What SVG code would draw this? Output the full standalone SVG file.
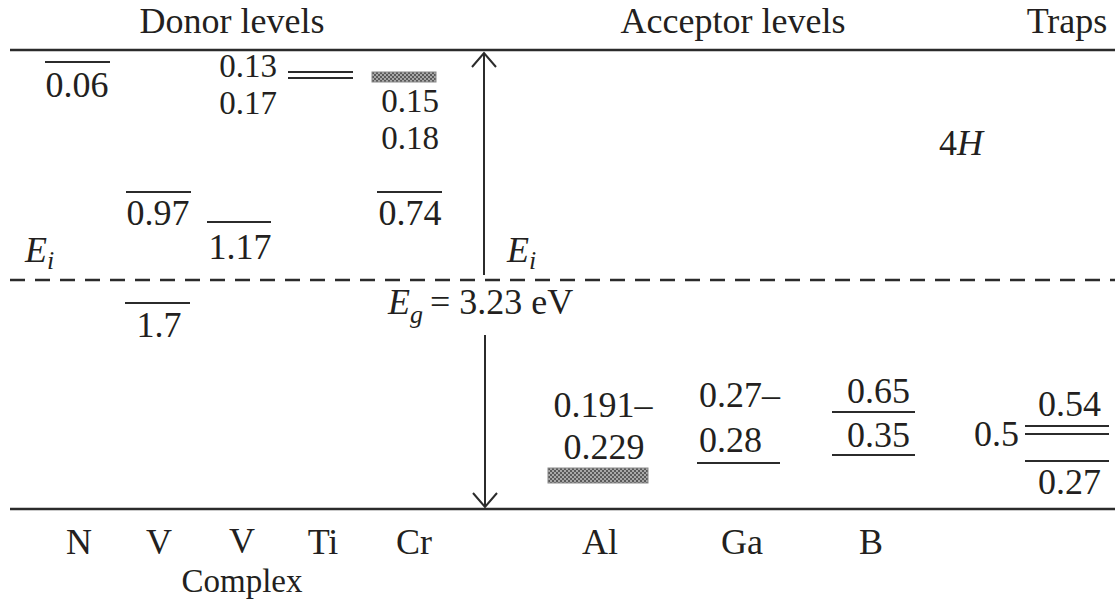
<svg xmlns="http://www.w3.org/2000/svg" width="1115" height="601" viewBox="0 0 1115 601">
<style>
  text { font-family: "Liberation Serif", "Times New Roman", serif; font-size: 36px; fill: #231f20; }
  .c { text-anchor: middle; }
  .it { font-style: italic; }
  .sub { font-size: 26px; }
  .st { font-size: 33px; }
  .lvl { stroke: #2b2b2b; stroke-width: 2; fill: none; }
  .band { stroke: #2b2b2b; stroke-width: 2.5; fill: none; }
  .dash { stroke: #2b2b2b; stroke-width: 2.5; stroke-dasharray: 15 10; fill: none; }
  .arr { stroke: #2b2b2b; stroke-width: 2; fill: none; }
  .hb { fill: url(#hatch); stroke: #8a8a8a; stroke-width: 1; }
</style>
<defs>
  <pattern id="hatch" width="4" height="4" patternUnits="userSpaceOnUse">
    <rect width="4" height="4" fill="#a8a8a8"/>
    <rect width="2" height="2" fill="#5a5a5a"/>
    <rect x="2" y="2" width="2" height="2" fill="#5a5a5a"/>
  </pattern>
  <marker id="open" viewBox="-2 -2 18 28" refX="14" refY="12" markerWidth="18" markerHeight="28" markerUnits="userSpaceOnUse" orient="auto" overflow="visible">
    <path d="M0,0 L14,12 L0,24" fill="none" stroke="#2b2b2b" stroke-width="2"/>
  </marker>
</defs>
<rect width="1115" height="601" fill="#ffffff"/>

<g id="bands">
  <line class="band" x1="10" y1="50" x2="1115" y2="50"/>
  <line class="dash" x1="10" y1="280" x2="1115" y2="280"/>
  <line class="band" x1="10" y1="509" x2="1115" y2="509"/>
</g>

<g id="headers">
  <text class="c" x="232" y="33">Donor levels</text>
  <text class="c" x="733" y="33">Acceptor levels</text>
  <text class="c" x="1067" y="33">Traps</text>
  <text class="c" x="961" y="155">4<tspan class="it">H</tspan></text>
</g>

<g id="ei-left"><text class="it" x="25" y="262">E<tspan class="sub" dy="7">i</tspan></text></g>
<g id="ei-right"><text class="it" x="507" y="262">E<tspan class="sub" dy="7">i</tspan></text></g>
<g id="eg"><text x="388" y="314"><tspan class="it">E</tspan><tspan class="it sub" dy="9">g</tspan><tspan x="430" y="314">= 3.23 eV</tspan></text></g>

<g id="n-donor">
  <line class="lvl" x1="45" y1="62" x2="110" y2="62"/>
  <text class="c" x="77" y="97">0.06</text>
</g>
<g id="v-donor">
  <line class="lvl" x1="126" y1="192" x2="191" y2="192"/>
  <text class="c" x="158" y="225">0.97</text>
  <line class="lvl" x1="125" y1="303" x2="190" y2="303"/>
  <text class="c" x="159" y="337">1.7</text>
</g>
<g id="vcomplex-donor">
  <line class="lvl" x1="207" y1="222" x2="271" y2="222"/>
  <text class="c" x="240" y="259">1.17</text>
</g>
<g id="ti-donor">
  <text class="c st" x="248" y="77">0.13</text>
  <text class="c st" x="248" y="114">0.17</text>
  <line class="lvl" x1="288" y1="72" x2="353" y2="72"/>
  <line class="lvl" x1="288" y1="78" x2="353" y2="78"/>
</g>
<g id="cr-donor">
  <rect class="hb" x="372" y="72" width="64" height="10"/>
  <text class="c st" x="410" y="112">0.15</text>
  <text class="c st" x="410" y="149">0.18</text>
  <line class="lvl" x1="377" y1="192" x2="442" y2="192"/>
  <text class="c" x="410" y="225">0.74</text>
</g>

<g id="al-acceptor">
  <text class="c" x="603" y="417">0.191–</text>
  <text class="c" x="604" y="459">0.229</text>
  <rect class="hb" x="548" y="468" width="100" height="15"/>
</g>
<g id="ga-acceptor">
  <text x="699" y="407">0.27–</text>
  <text x="699" y="452">0.28</text>
  <line class="lvl" x1="697" y1="463" x2="780" y2="463"/>
</g>
<g id="b-acceptor">
  <text x="847" y="403">0.65</text>
  <line class="lvl" x1="832" y1="412" x2="915" y2="412"/>
  <text x="847" y="447">0.35</text>
  <line class="lvl" x1="832" y1="455" x2="915" y2="455"/>
</g>
<g id="traps">
  <text x="974" y="446">0.5</text>
  <text x="1038" y="416">0.54</text>
  <line class="lvl" x1="1025" y1="426" x2="1109" y2="426"/>
  <line class="lvl" x1="1025" y1="434" x2="1109" y2="434"/>
  <line class="lvl" x1="1025" y1="461" x2="1109" y2="461"/>
  <text x="1038" y="494">0.27</text>
</g>

<g id="labels">
  <text class="c" x="79" y="554">N</text>
  <text class="c" x="159" y="554">V</text>
  <text class="c" x="242" y="553">V</text>
  <text class="c st" x="242" y="592">Complex</text>
  <text class="c" x="323" y="554">Ti</text>
  <text class="c" x="414" y="554">Cr</text>
  <text class="c" x="600" y="554">Al</text>
  <text class="c" x="742" y="554">Ga</text>
  <text class="c" x="871" y="554">B</text>
</g>

<g id="connectors">
  <line class="arr" x1="484" y1="275" x2="484" y2="53" marker-end="url(#open)"/>
  <line class="arr" x1="485" y1="335" x2="485" y2="507" marker-end="url(#open)"/>
</g>
</svg>
